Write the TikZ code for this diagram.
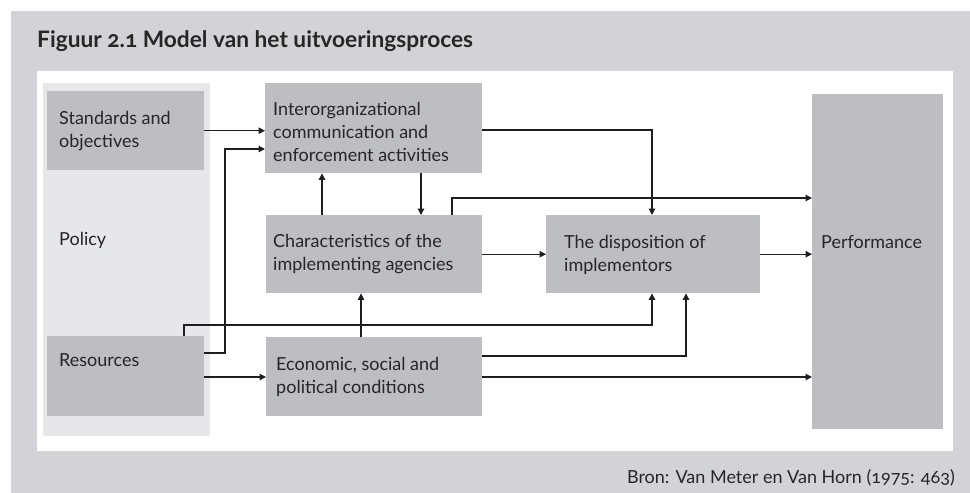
\documentclass[tikz,border=0pt]{standalone}
\usepackage{fontspec}
\setmainfont{Lato}[Numbers=OldStyle]
\usetikzlibrary{arrows.meta}
\definecolor{framegrey}{RGB}{209,211,214}
\definecolor{boxgrey}{RGB}{188,190,193}
\definecolor{polgrey}{RGB}{230,231,234}
\definecolor{txtcol}{RGB}{40,36,40}
\begin{document}
\begin{tikzpicture}[x=1pt,y=-1pt,
  box/.style={fill=boxgrey, draw=none, inner sep=0pt, anchor=north west},
  lbl/.style={anchor=base west, inner sep=0pt, align=left, text=txtcol,
    font=\fontsize{18}{23}\selectfont},
  conn/.style={line width=1.3pt, draw=black!88},
  arr/.style={conn, -{Triangle[length=6.5pt,width=6.5pt]}}]
\useasboundingbox (0,0) rectangle (970,493);
% frame
\fill[framegrey] (11,11) rectangle (970,493);
\fill[white] (37,71) rectangle (953,451);
\node[anchor=base west, inner sep=0pt, text=black!85, font=\fontsize{22.7}{26}\selectfont\bfseries] (title) at (37,47) {Figuur 2.1 Model van het uitvoeringsproces};
% boxes
\node[box, fill=polgrey, minimum width=167pt, minimum height=353pt] (pol) at (43,83) {};
\node[box, minimum width=157pt, minimum height=79pt] (std) at (47,91) {};
\node[box, minimum width=157pt, minimum height=80pt] (res) at (47,336) {};
\node[box, minimum width=217pt, minimum height=90pt] (ior) at (265,83) {};
\node[box, minimum width=216pt, minimum height=78pt] (char) at (266,215) {};
\node[box, minimum width=216pt, minimum height=79pt] (econ) at (266,337) {};
\node[box, minimum width=214pt, minimum height=78pt] (disp) at (546,215) {};
\node[box, minimum width=131pt, minimum height=335pt] (perf) at (812,94) {};
% labels (anchor at baseline of last line)
\node[lbl] (tstd) at (59,147) {Standards and\\objectives};
\node[lbl] (tpol) at (59,245) {Policy};
\node[lbl] (tres) at (59,366) {Resources};
\node[lbl] (tior) at (273,161) {Interorganizational\\communication and\\enforcement activities};
\node[lbl] (tchar) at (273,270) {Characteristics of the\\implementing agencies};
\node[lbl] (tecon) at (276,393) {Economic, social and\\political conditions};
\node[lbl] (tdisp) at (564,271) {The disposition of\\implementors};
\node[lbl] (tperf) at (821,248) {Performance};
\node[anchor=base east, inner sep=0pt, text=txtcol, font=\fontsize{18}{23}\selectfont] (bron) at (955,483) {Bron: Van Meter en Van Horn (1975: 463)};
% connectors
\draw[arr] (std.east) -- (std.east -| ior.west);
\draw[arr] (res.east |- 0,353) -- (225,353) -- (225,149) -- (ior.west |- 0,149);
\draw[arr] (char.north -| 322,0) -- (ior.south -| 322,0);
\draw[arr] (ior.south -| 421,0) -- (char.north -| 421,0);
\draw[arr] (ior.east |- 0,130) -- (652,130) -- (disp.north -| 652,0);
\draw[arr] (char.north -| 452,0) -- (452,198) -- (perf.west |- 0,198);
\draw[arr] (char.east) -- (disp.west);
\draw[arr] (disp.east) -- (disp.east -| perf.west);
\draw[arr] (res.north -| 184,0) -- (184,325) -- (652,325) -- (disp.south -| 652,0);
\draw[arr] (econ.north -| 361,0) -- (char.south -| 361,0);
\draw[arr] (econ.east |- 0,356) -- (686,356) -- (disp.south -| 686,0);
\draw[arr] (res.east |- 0,377) -- (econ.west |- 0,377);
\draw[arr] (econ.east |- 0,377) -- (perf.west |- 0,377);
\end{tikzpicture}
\end{document}
